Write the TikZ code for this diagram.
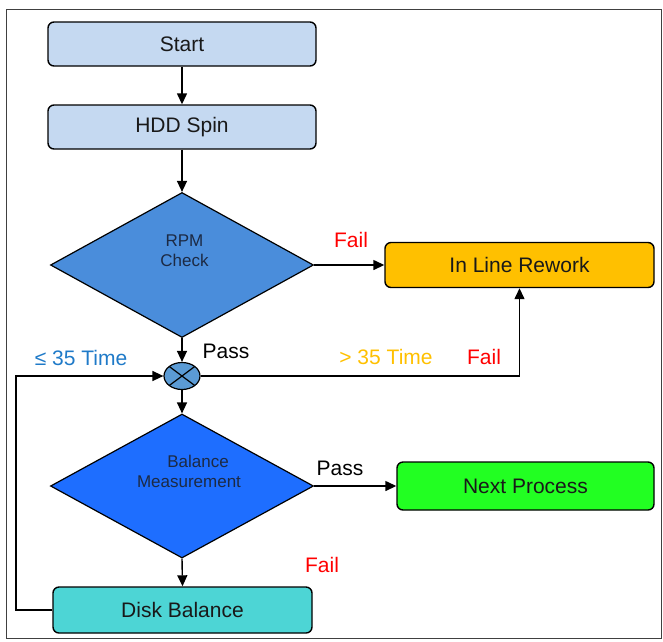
\documentclass[tikz,border=0pt]{standalone}
\usepackage{fontspec}
\setmainfont{Liberation Sans}
\usetikzlibrary{arrows.meta,shapes.geometric,calc}
\definecolor{boxblue}{HTML}{C5D9F1}
\definecolor{rpmblue}{HTML}{4A8DDB}
\definecolor{balblue}{HTML}{1E6EFF}
\definecolor{junc}{HTML}{5B9BD5}
\definecolor{rework}{HTML}{FFC000}
\definecolor{nextg}{HTML}{22FF22}
\definecolor{diskc}{HTML}{4DD5D5}
\definecolor{lblblue}{HTML}{1F7AC8}
\definecolor{lblorange}{HTML}{FFC000}
\definecolor{dtext}{HTML}{1C2A44}
\tikzset{
  procbox/.style={draw=black, line width=1.4pt, rounded corners=6pt, minimum height=44pt, font=\fontsize{21}{24}\selectfont, text=black!90, inner sep=0pt},
  decision/.style={diamond, draw=black, line width=1.2pt, minimum width=263pt, minimum height=145pt, inner sep=0pt, aspect=1.8},
  dlabel/.style={font=\fontsize{17}{20}\selectfont, text=dtext, align=center, inner sep=0pt},
  elabel/.style={font=\fontsize{21}{24}\selectfont, inner sep=0pt},
  conn/.style={draw=black, line width=1.4pt},
  arr/.style={conn, -{Triangle[length=11pt,width=10pt]}}
}
\begin{document}
\begin{tikzpicture}[x=1pt,y=-1pt]
\useasboundingbox (0,0) rectangle (663,641);
\draw[black!75, line width=1pt] (6,9) rectangle (661,638);

\node[procbox, fill=boxblue, minimum width=268pt] (start) at (182,44) {Start};
\node[procbox, fill=boxblue, minimum width=268pt] (hdd) at (182,127) {HDD Spin};
\node[decision, fill=rpmblue] (rpm) at (182,265) {};
\node[dlabel] (rpmt) at (184.5,250.5) {RPM\\Check};
\node[procbox, fill=rework, minimum width=269pt, minimum height=45pt] (rew) at (519.5,265) {In Line Rework};
\node[ellipse, draw=black, line width=1.2pt, fill=junc, minimum width=36pt, minimum height=27pt, inner sep=0pt] (j) at (182,376) {};
\draw[black, line width=1.2pt] ($(j.center)+(-12.7,-9.5)$) -- ($(j.center)+(12.7,9.5)$);
\draw[black, line width=1.2pt] ($(j.center)+(-12.7,9.5)$) -- ($(j.center)+(12.7,-9.5)$);
\node[decision, fill=balblue, minimum height=144pt] (bal) at (182,486) {};
\node[dlabel] (balt) at (189,471) {\hspace*{18pt}Balance\\Measurement};
\node[procbox, fill=nextg, minimum width=257pt, minimum height=48pt] (next) at (525.5,486) {Next Process};
\node[procbox, fill=diskc, minimum width=259pt, minimum height=46pt] (disk) at (182.5,610) {Disk Balance};

\draw[arr] (start) -- (hdd);
\draw[arr] (hdd) -- (rpm.north);
\draw[arr] (rpm.east) -- (rew.west);
\draw[arr] (rpm.south) -- (j.north);
\draw[arr] (j.east) -| (rew.south);
\draw[arr] (j.south) -- (bal.north);
\draw[arr] (bal.east) -- (next.west);
\draw[arr] (bal.south) -- (disk.north);
\coordinate (lb) at (16,610);
\coordinate (lt) at (16,376);
\draw[arr] (disk.west) -- (lb) -- (lt) -- (j.west);

\node[elabel, text=red] (f1) at (351,240) {Fail};
\node[elabel] (p1) at (226,351) {Pass};
\node[elabel, text=lblblue] (le) at (81,358) {≤ 35 Time};
\node[elabel, text=lblorange] (gt) at (386,357) {> 35 Time};
\node[elabel, text=red] (f2) at (484,357) {Fail};
\node[elabel] (p2) at (340,468) {Pass};
\node[elabel, text=red] (f3) at (322,565) {Fail};
\end{tikzpicture}
\end{document}
